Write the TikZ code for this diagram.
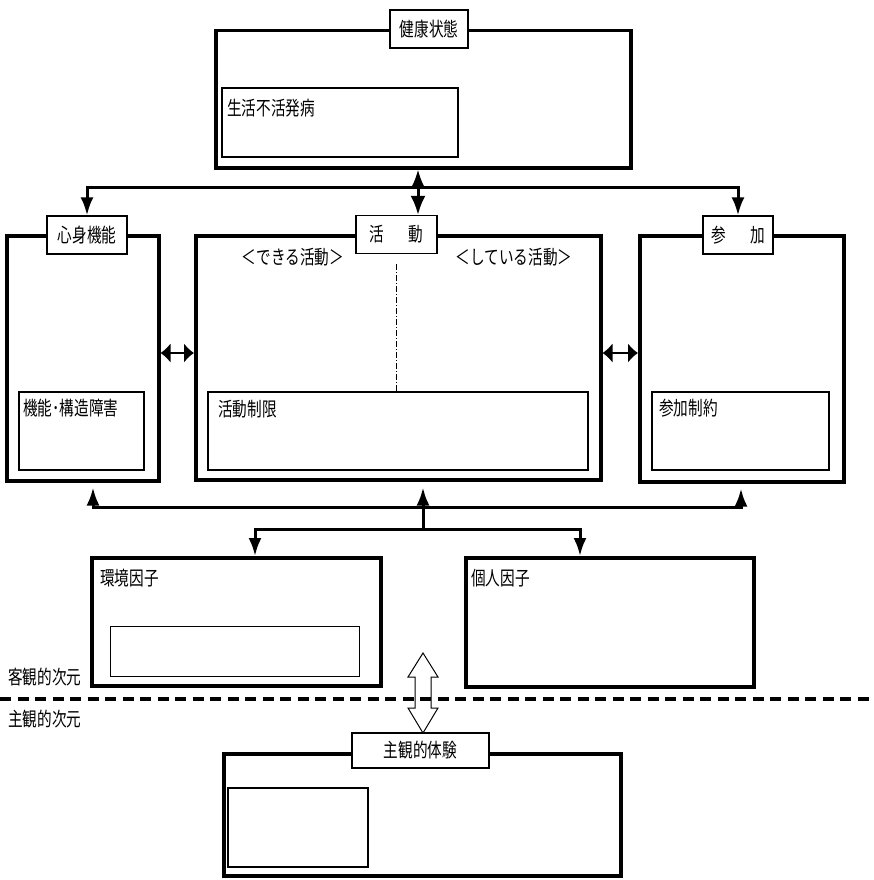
\documentclass[tikz,border=0pt]{standalone}
\usepackage{fontspec}
\setmainfont{Noto Sans CJK JP}[FakeStretch=0.75]
\usetikzlibrary{arrows.meta,calc}

\tikzset{
  outerbox/.style={draw, line width=3.5pt, anchor=north west, inner sep=0pt},
  innerbox/.style={draw, line width=2.2pt, anchor=north west, inner sep=0pt},
  thinbox/.style={draw, line width=1pt, anchor=north west, inner sep=0pt},
  titlebox/.style={draw, fill=white, line width=1.2pt, minimum height=38pt, inner sep=0pt},
  boxtext/.style={anchor=west, inner sep=0pt},
  conn/.style={line width=3pt},
  onearrow/.style={conn, -{Latex[length=18pt,width=13pt]}},
  twoarrow/.style={conn, {Latex[length=19pt,width=15pt]}-{Latex[length=19pt,width=15pt]}},
  sidearrow/.style={line width=2.5pt, {Latex[length=10pt,width=20pt]}-{Latex[length=10pt,width=20pt]}},
  divider/.style={line width=0.8pt, dash pattern=on 6pt off 2pt on 1pt off 2pt},
  borderline/.style={line width=4pt, dash pattern=on 11pt off 6.5pt}
}

\begin{document}
\begin{tikzpicture}[x=1pt, y=-1pt, font=\fontsize{19.5}{22}\selectfont]
	\useasboundingbox (0,0) rectangle (873,880);

	% 健康状態
	\node[outerbox, minimum width=415pt, minimum height=137pt] (health) at (214,29) {};
	\node[innerbox, minimum width=236pt, minimum height=69pt] (sedentary) at (221,87) {};
	\node[boxtext] (sedentarytxt) at ($(sedentary.north west)+(6,21)$) {生活不活発病};
	\node[titlebox, minimum width=78pt] (healthlbl) at (429,29) {健康状態};

	% 心身機能
	\node[outerbox, minimum width=152pt, minimum height=245pt] (body) at (5,234) {};
	\node[innerbox, minimum width=125pt, minimum height=78pt] (impair) at (18,391) {};
	\node[boxtext] (impairtxt) at ($(impair.north west)+(5,17)$) {機能･構造障害};
	\node[titlebox, minimum width=80pt] (bodylbl) at (87,235) {心身機能};

	% 活動
	\node[outerbox, minimum width=405pt, minimum height=244pt] (act) at (194,234) {};
	\node[innerbox, minimum width=380pt, minimum height=78pt] (limit) at (207,391) {};
	\node[boxtext] (limittxt) at ($(limit.north west)+(11,18)$) {活動制限};
	\node[titlebox, minimum width=81pt] (actlbl) at (396.5,234.5) {活\hspace{24pt}動};
	\node[inner sep=0pt] (cando) at (293,257) {＜できる活動＞};
	\node[inner sep=0pt] (doing) at (514,257) {＜している活動＞};
	\draw[divider] ($(actlbl.south)+(0,10)$) -- (actlbl.south |- limit.north);

	% 参加
	\node[outerbox, minimum width=204pt, minimum height=246pt] (part) at (638,234) {};
	\node[innerbox, minimum width=177pt, minimum height=78pt] (restrict) at (651,391) {};
	\node[boxtext] (restricttxt) at ($(restrict.north west)+(8,17)$) {参加制約};
	\node[titlebox, minimum width=70pt] (partlbl) at (738,235) {参\hspace{24pt}加};

	% 環境因子と個人因子
	\node[outerbox, minimum width=289pt, minimum height=128pt] (env) at (90,556) {};
	\node[boxtext] (envtxt) at ($(env.north west)+(10,22)$) {環境因子};
	\node[thinbox, minimum width=249pt, minimum height=50pt] (envin) at (110,626) {};
	\node[outerbox, minimum width=288pt, minimum height=129pt] (pers) at (464,556) {};
	\node[boxtext] (perstxt) at ($(pers.north west)+(7,22)$) {個人因子};

	% 主観的体験
	\node[outerbox, minimum width=397pt, minimum height=122pt] (subj) at (222,752) {};
	\node[innerbox, minimum width=140pt, minimum height=79pt] (subjin) at (227,787) {};
	\node[titlebox, minimum width=137pt, minimum height=35pt] (subjlbl) at (420.5,750.5) {主観的体験};

	% 次元の文字
	\node[boxtext] (objdim) at (8,677) {客観的次元};
	\node[boxtext] (subjdim) at (8,719) {主観的次元};

	% 上の矢印
	\coordinate (hub) at (418,187);
	\draw[twoarrow] (hub |- health.south) -- (hub |- actlbl.north);
	\draw[onearrow] (hub) -| (bodylbl.north);
	\draw[onearrow] (hub) -| (partlbl.north);

	% 横の矢印
	\coordinate (mid) at (0,353);
	\draw[sidearrow] (body.east |- mid) -- (act.west |- mid);
	\draw[sidearrow] (act.east |- mid) -- (part.west |- mid);

	% 下の矢印
	\coordinate (split) at (423,529);
	\coordinate (busL) at (93,507);
	\coordinate (busR) at (741,507);
	\coordinate (envx) at (255,0);
	\coordinate (persx) at (580,0);
	\draw[onearrow, shorten >=5pt] (split |- busL) -| (body.south -| busL);
	\draw[onearrow, shorten >=5pt] (split |- busR) -| (part.south -| busR);
	\draw[onearrow, shorten >=6pt] (split) -- (split |- act.south);
	\draw[onearrow] (split) -| (env.north -| envx);
	\draw[onearrow] (split) -| (pers.north -| persx);

	% 白抜きの両矢印と点線
	\draw[line width=1pt, fill=white] (423,653) -- (438,677) -- (431,677) -- (431,708) -- (438,708)
		-- (423,733) -- (408,708) -- (415,708) -- (415,677) -- (408,677) -- cycle;
	\draw[borderline] (0,699) -- (873,699);
\end{tikzpicture}
\end{document}
